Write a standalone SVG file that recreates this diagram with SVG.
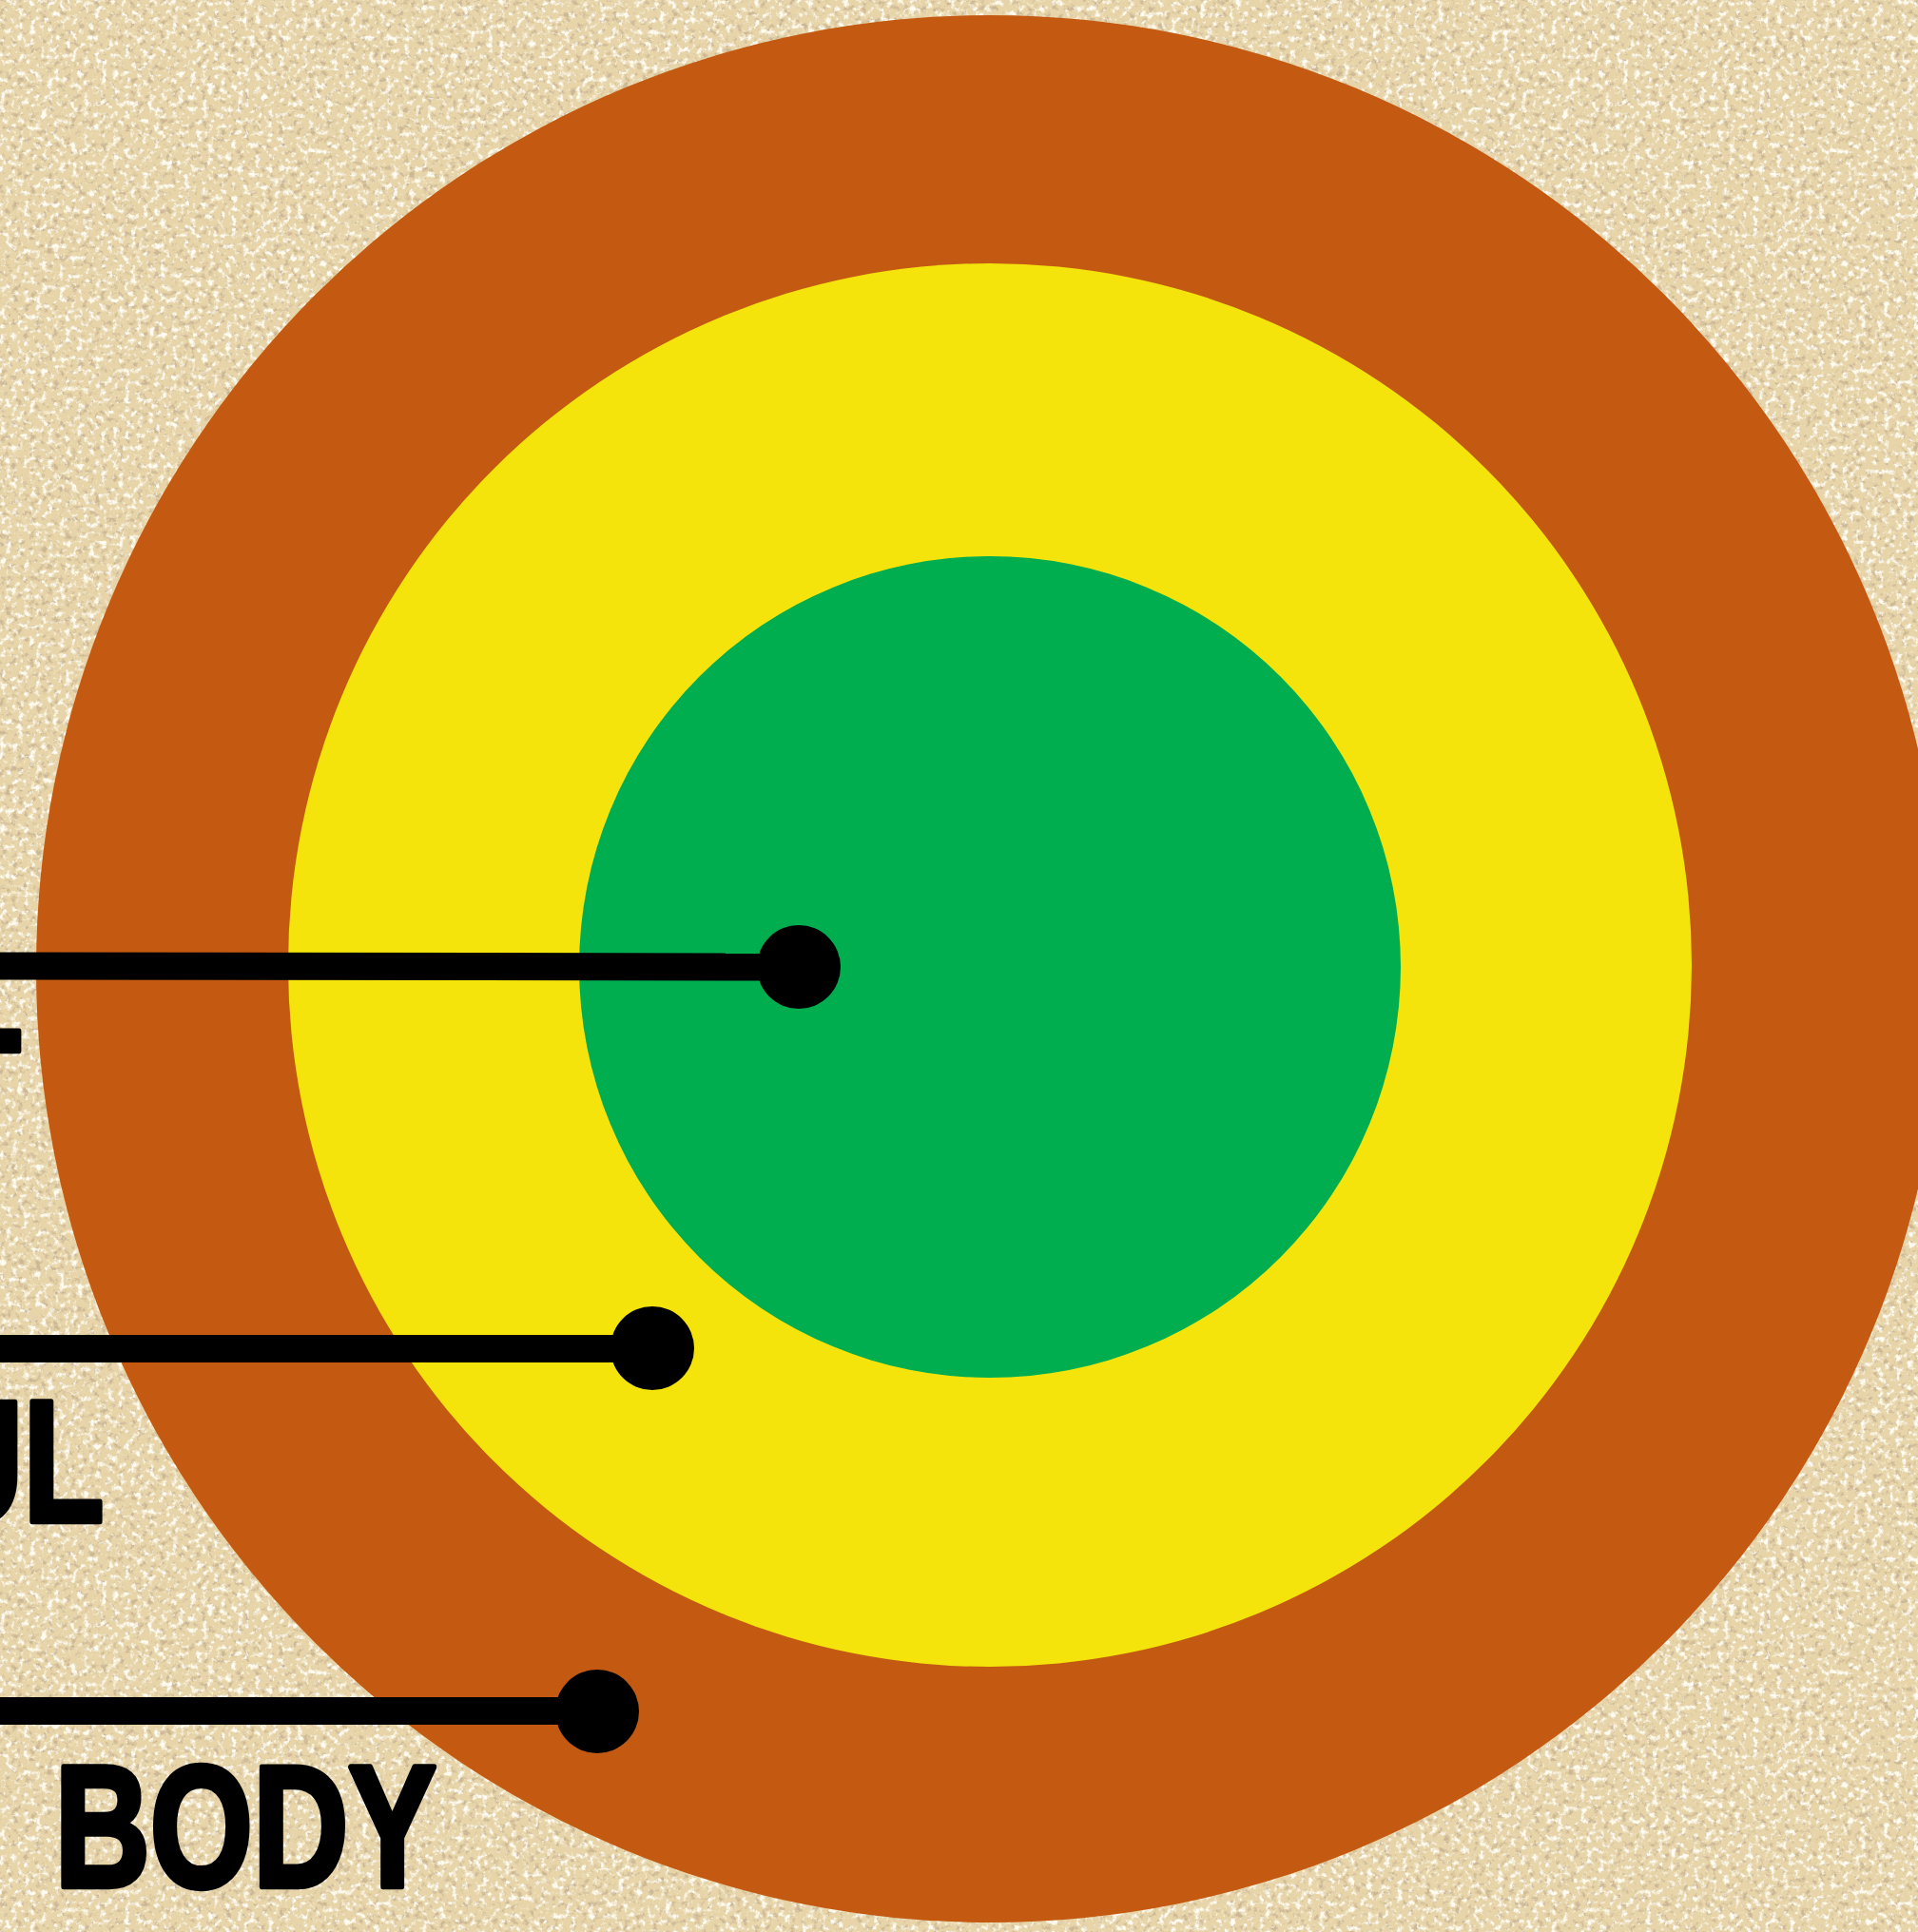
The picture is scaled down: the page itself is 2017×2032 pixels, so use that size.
<svg xmlns="http://www.w3.org/2000/svg" width="2017" height="2032" viewBox="0 0 2017 2032">
  <style>
    .body { fill: #c45a12; }
    .soul { fill: #f4e40c; }
    .spirit { fill: #00ae50; }
    .conn line { stroke: #000; stroke-width: 29; }
    .conn circle { fill: #000; }
    .lbl { font-family: "Liberation Sans", Arial, sans-serif; font-weight: 700; font-size: 181px; fill: #000; stroke: #000; stroke-width: 6.5; stroke-linejoin: round; }
  </style>
  <defs>
    <filter id="sand" x="0" y="0" width="2017" height="2032" filterUnits="userSpaceOnUse">
      <feTurbulence type="fractalNoise" baseFrequency="0.16" numOctaves="4" seed="7" result="n"/>
      <feColorMatrix in="n" type="matrix" result="dark" values="0 0 0 0 0.60  0 0 0 0 0.47  0 0 0 0 0.30  4.5 0 0 0 -2.45"/>
      <feColorMatrix in="n" type="matrix" result="light" values="0 0 0 0 0.99  0 0 0 0 0.96  0 0 0 0 0.88  0 4.5 0 0 -2.35"/>
      <feMerge>
        <feMergeNode in="dark"/>
        <feMergeNode in="light"/>
      </feMerge>
    </filter>
  </defs>

  <g id="background">
    <rect x="0" y="0" width="2017" height="2032" fill="#e7d5a9"/>
    <rect x="0" y="0" width="2017" height="2032" fill="#fff" filter="url(#sand)"/>
  </g>

  <g id="node-body">
    <circle class="body" cx="1041" cy="1019" r="1003"/>
  </g>
  <g id="node-soul">
    <circle class="soul" cx="1041" cy="1015" r="738"/>
  </g>
  <g id="node-spirit">
    <circle class="spirit" cx="1041" cy="1017" r="432"/>
  </g>

  <g id="connectors" class="conn">
    <line x1="0" y1="1016" x2="840" y2="1017"/>
    <circle cx="840" cy="1017" r="44"/>
    <line x1="0" y1="1418.5" x2="686" y2="1418.5"/>
    <circle cx="686" cy="1418" r="44"/>
    <line x1="0" y1="1799.5" x2="628" y2="1799.5"/>
    <circle cx="628" cy="1800" r="44"/>
  </g>

  <g id="label-spirit">
    <text class="lbl" transform="translate(-63.5 1210) scale(0.768 1)">T</text>
  </g>
  <g id="label-soul">
    <text class="lbl" transform="translate(-76 1600) scale(0.768 1)">UL</text>
  </g>
  <g id="label-body">
    <text class="lbl" transform="translate(57.4 1984) scale(0.768 1)">BODY</text>
  </g>
</svg>
